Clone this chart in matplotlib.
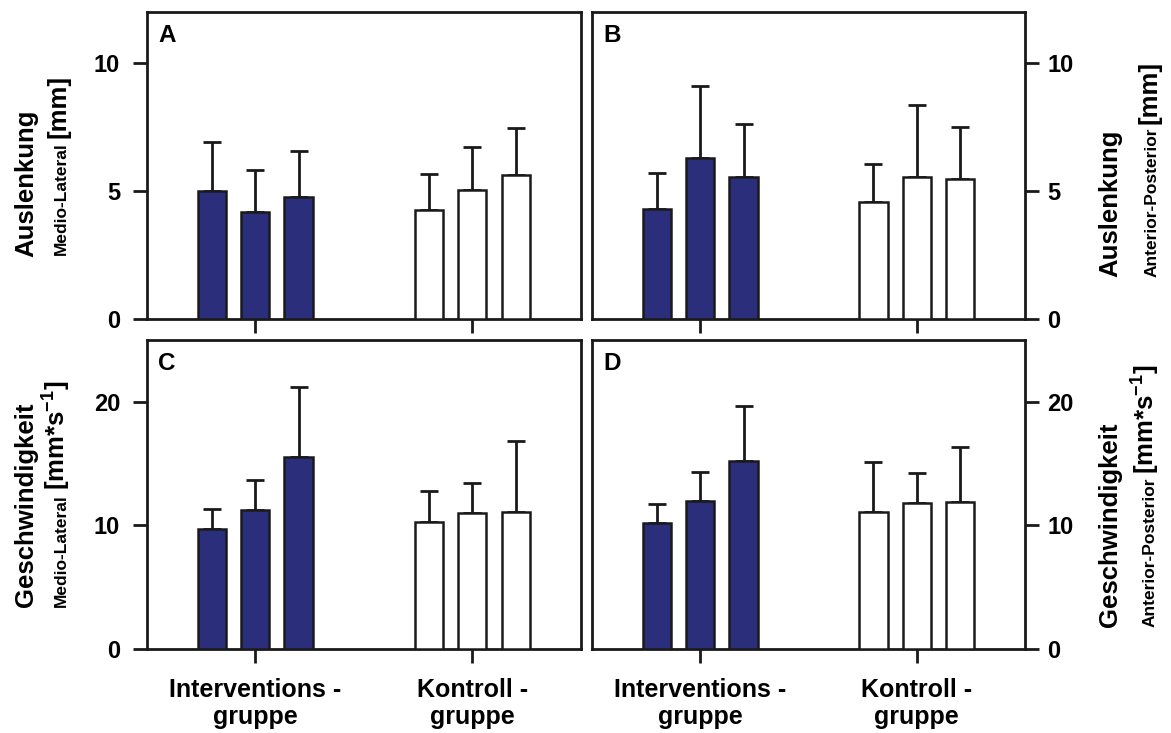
import matplotlib
matplotlib.use('Agg')
import matplotlib.pyplot as plt
import numpy as np

plt.rcParams['font.family'] = ['Liberation Sans', 'DejaVu Sans']
plt.rcParams['font.weight'] = 'bold'
plt.rcParams['mathtext.fontset'] = 'custom'
plt.rcParams['mathtext.rm'] = 'Liberation Sans:bold'
plt.rcParams['mathtext.it'] = 'Liberation Sans:bold'
plt.rcParams['mathtext.bf'] = 'Liberation Sans:bold'
plt.rcParams['mathtext.default'] = 'rm'

# ---------------- data ----------------
groups = ["Interventions -\ngruppe", "Kontroll -\ngruppe"]

A_int_mean = [5.01, 4.18, 4.75]
A_int_sd = [1.91, 1.65, 1.82]
A_kon_mean = [4.26, 5.04, 5.61]
A_kon_sd = [1.40, 1.69, 1.84]

B_int_mean = [4.30, 6.30, 5.57]
B_int_sd = [1.40, 2.80, 2.05]
B_kon_mean = [4.56, 5.57, 5.48]
B_kon_sd = [1.49, 2.81, 2.03]

C_int_mean = [9.73, 11.22, 15.50]
C_int_sd = [1.60, 2.44, 5.72]
C_kon_mean = [10.24, 10.98, 11.06]
C_kon_sd = [2.55, 2.43, 5.80]

D_int_mean = [10.19, 11.95, 15.23]
D_int_sd = [1.57, 2.41, 4.42]
D_kon_mean = [11.11, 11.79, 11.87]
D_kon_sd = [3.98, 2.41, 4.44]

top_ticks = [0, 5, 10]
bottom_ticks = [0, 10, 20]
panel_letters = ["A", "B", "C", "D"]

# ---------------- style ----------------
W, H = 1171, 733
NAVY = '#2b2f7b'
EDGE = '#1a1a1a'
fig = plt.figure(figsize=(W / 100, H / 100), dpi=100)


def rect(l, r, t, b):
    return [l / W, 1 - b / H, (r - l) / W, (b - t) / H]


axA = fig.add_axes(rect(146.5, 581, 12, 319))
axB = fig.add_axes(rect(592, 1025, 12, 319))
axC = fig.add_axes(rect(146.5, 581, 340, 649))
axD = fig.add_axes(rect(592, 1025, 340, 649))

panels = [
    (axA, A_int_mean, A_int_sd, A_kon_mean, A_kon_sd, 12, top_ticks, 'left', False),
    (axB, B_int_mean, B_int_sd, B_kon_mean, B_kon_sd, 12, top_ticks, 'right', False),
    (axC, C_int_mean, C_int_sd, C_kon_mean, C_kon_sd, 25, bottom_ticks, 'left', True),
    (axD, D_int_mean, D_int_sd, D_kon_mean, D_kon_sd, 25, bottom_ticks, 'right', True),
]

offsets = np.array([-0.2, 0.0, 0.2])
width = 0.13

for (ax, im, isd, km, ksd, ymax, yt, side, xlab), letter in zip(panels, panel_letters):
    for gi, (m, s, fc) in enumerate([(im, isd, NAVY), (km, ksd, 'white')]):
        xs = gi + offsets
        ax.bar(xs, m, width=width, color=fc, edgecolor=EDGE, linewidth=1.8, zorder=3)
        ax.errorbar(xs, m, yerr=[np.zeros(len(s)), s], fmt='none', ecolor=EDGE,
                    elinewidth=2.0, capsize=6.5, capthick=2.0, zorder=2)
    ax.set_xlim(-0.5, 1.5)
    ax.set_ylim(0, ymax)
    ax.set_yticks(yt)
    ax.set_xticks([0, 1])
    for sp in ax.spines.values():
        sp.set_linewidth(2.0)
        sp.set_color(EDGE)
    ax.tick_params(axis='both', direction='out', length=10, width=2.0, color=EDGE,
                   labelsize=17)
    if side == 'right':
        ax.yaxis.tick_right()
        ax.tick_params(axis='y', pad=6)
    else:
        ax.tick_params(axis='y', pad=9)
    if xlab:
        ax.set_xticklabels(groups, fontsize=18, fontweight='bold', linespacing=1.15)
        ax.tick_params(axis='x', pad=11)
    else:
        ax.set_xticklabels([])
    for lab in ax.get_yticklabels():
        lab.set_fontweight('bold')
    ax.annotate(letter, xy=(0, 1), xycoords='axes fraction', xytext=(8.3, -21.6),
                textcoords='offset points', ha='left', va='baseline',
                fontsize=17.5, fontweight='bold')

renderer = fig.canvas.get_renderer()


def vlabel(x_base, y_bottom, parts):
    y = y_bottom
    for txt, size, gap in parts:
        t = fig.text(x_base / W, 1 - y / H, txt, fontsize=size, fontweight='bold',
                     rotation=90, rotation_mode='anchor', ha='left', va='baseline')
        bb = t.get_window_extent(renderer=renderer)
        y -= bb.height + gap


BIG, SMALL = 18.5, 12.5
vlabel(33, 257, [("Auslenkung", BIG, 0)])
vlabel(65.6, 255, [("Medio-Lateral", SMALL, 4), ("[mm]", BIG, 0)])
vlabel(1117, 277, [("Auslenkung", BIG, 0)])
vlabel(1156.5, 277, [("Anterior-Posterior", SMALL, 4), ("[mm]", BIG, 0)])
vlabel(33, 607, [("Geschwindigkeit", BIG, 0)])
vlabel(65.6, 607, [("Medio-Lateral", SMALL, 4), ("[mm*s$^{-1}$]", BIG, 0)])
vlabel(1117, 627, [("Geschwindigkeit", BIG, 0)])
vlabel(1155, 627, [("Anterior-Posterior", SMALL, 4), ("[mm*s$^{-1}$]", BIG, 0)])

fig.savefig('out.png', dpi=100)
